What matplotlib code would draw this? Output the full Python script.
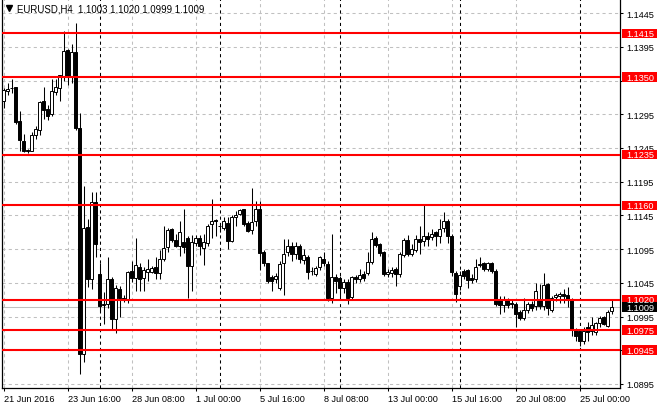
import matplotlib
matplotlib.use('Agg')
import matplotlib.pyplot as plt
from matplotlib.patches import Rectangle
from matplotlib.transforms import blended_transform_factory

# EURUSD H4 bars, 21 Jun 2016 00:00 onwards
opens = [1.1315, 1.1330, 1.1334, 1.1335, 1.1285, 1.1256, 1.1242, 1.1241, 1.1265, 1.1271,
         1.1314, 1.1303, 1.1295, 1.1328, 1.1334, 1.1352, 1.1391, 1.1352, 1.1387, 1.1274,
         1.0940, 1.1128, 1.1050, 1.1165, 1.1058, 1.1012, 1.1013, 1.1051, 1.0991, 1.1036,
         1.1022, 1.1021, 1.1063, 1.1052, 1.1069, 1.1052, 1.1061, 1.1061, 1.1068, 1.1059,
         1.1081, 1.1098, 1.1125, 1.1109, 1.1099, 1.1105, 1.1112, 1.1070, 1.1104, 1.1111,
         1.1097, 1.1104, 1.1132, 1.1138, 1.1130, 1.1127, 1.1134, 1.1107, 1.1142, 1.1147,
         1.1154, 1.1134, 1.1124, 1.1136, 1.1154, 1.1091, 1.1074, 1.1053, 1.1050, 1.1038,
         1.1074, 1.1090, 1.1100, 1.1088, 1.1100, 1.1079, 1.1084, 1.1063, 1.1058, 1.1068,
         1.1081, 1.1073, 1.1022, 1.1053, 1.1052, 1.1037, 1.1046, 1.1024, 1.1054, 1.1050,
         1.1058, 1.1060, 1.1076, 1.1112, 1.1102, 1.1090, 1.1058, 1.1059, 1.1065, 1.1058,
         1.1087, 1.1109, 1.1088, 1.1094, 1.1110, 1.1107, 1.1115, 1.1113, 1.1120, 1.1115,
         1.1126, 1.1137, 1.1115, 1.1060, 1.1040, 1.1063, 1.1064, 1.1052, 1.1050, 1.1071,
         1.1075, 1.1066, 1.1074, 1.1063, 1.1021, 1.1012, 1.1020, 1.1015, 1.1013, 1.1001,
         1.0993, 1.1005, 1.1013, 1.1010, 1.1021, 1.1011, 1.1043, 1.1005, 1.1024, 1.1025,
         1.1028, 1.1027, 1.1020, 1.0976, 1.0974, 1.0958, 1.0980, 1.0974, 1.0972, 1.0985,
         1.0994, 1.0981, 1.1003]
highs = [1.1334, 1.1342, 1.1348, 1.1336, 1.1300, 1.1266, 1.1244, 1.1268, 1.1277, 1.1314,
         1.1336, 1.1309, 1.1347, 1.1348, 1.1354, 1.1419, 1.1392, 1.1399, 1.1430, 1.1297,
         1.1189, 1.1140, 1.1180, 1.1180, 1.1074, 1.1031, 1.1083, 1.1053, 1.1042, 1.1040,
         1.1027, 1.1062, 1.1078, 1.1111, 1.1074, 1.1069, 1.1081, 1.1070, 1.1084, 1.1093,
         1.1130, 1.1126, 1.1127, 1.1117, 1.1136, 1.1154, 1.1115, 1.1116, 1.1116, 1.1116,
         1.1117, 1.1133, 1.1169, 1.1140, 1.1132, 1.1143, 1.1142, 1.1146, 1.1152, 1.1154,
         1.1155, 1.1136, 1.1185, 1.1166, 1.1167, 1.1093, 1.1075, 1.1056, 1.1059, 1.1077,
         1.1110, 1.1110, 1.1106, 1.1106, 1.1103, 1.1095, 1.1087, 1.1068, 1.1070, 1.1085,
         1.1090, 1.1078, 1.1117, 1.1058, 1.1055, 1.1050, 1.1050, 1.1055, 1.1056, 1.1066,
         1.1062, 1.1090, 1.1120, 1.1114, 1.1104, 1.1092, 1.1065, 1.1068, 1.1068, 1.1090,
         1.1112, 1.1116, 1.1102, 1.1116, 1.1129, 1.1162, 1.1120, 1.1125, 1.1122, 1.1140,
         1.1150, 1.1140, 1.1118, 1.1063, 1.1063, 1.1066, 1.1066, 1.1058, 1.1081, 1.1083,
         1.1076, 1.1076, 1.1076, 1.1065, 1.1025, 1.1025, 1.1022, 1.1020, 1.1016, 1.1004,
         1.1022, 1.1016, 1.1018, 1.1045, 1.1043, 1.1060, 1.1045, 1.1025, 1.1030, 1.1031,
         1.1036, 1.1039, 1.1022, 1.0978, 1.0976, 1.0980, 1.0987, 1.0994, 1.0987, 1.0996,
         1.0996, 1.1004, 1.1020]
lows = [1.1305, 1.1323, 1.1327, 1.1281, 1.1241, 1.1239, 1.1238, 1.1240, 1.1259, 1.1265,
        1.1288, 1.1287, 1.1293, 1.1323, 1.1315, 1.1345, 1.1339, 1.1341, 1.1272, 1.0910,
        1.0928, 1.1039, 1.1036, 1.1084, 1.1003, 1.0984, 1.1008, 1.0977, 1.0970, 1.0994,
        1.1017, 1.1015, 1.1046, 1.1033, 1.1033, 1.1033, 1.1048, 1.1059, 1.1050, 1.1051,
        1.1078, 1.1090, 1.1105, 1.1098, 1.1085, 1.1089, 1.1023, 1.1033, 1.1100, 1.1086,
        1.1072, 1.1100, 1.1111, 1.1115, 1.1120, 1.1124, 1.1095, 1.1105, 1.1129, 1.1145,
        1.1130, 1.1120, 1.1117, 1.1130, 1.1064, 1.1070, 1.1045, 1.1033, 1.1045, 1.1035,
        1.1027, 1.1085, 1.1078, 1.1080, 1.1075, 1.1073, 1.1051, 1.1057, 1.1055, 1.1064,
        1.1070, 1.1018, 1.1015, 1.1030, 1.1023, 1.1030, 1.1013, 1.1019, 1.1045, 1.1046,
        1.1048, 1.1057, 1.1073, 1.1098, 1.1085, 1.1055, 1.1053, 1.1053, 1.1041, 1.1053,
        1.1084, 1.1085, 1.1085, 1.1090, 1.1088, 1.1100, 1.1100, 1.1108, 1.1100, 1.1104,
        1.1120, 1.1104, 1.1055, 1.1016, 1.1035, 1.1050, 1.1037, 1.1045, 1.1046, 1.1068,
        1.1063, 1.1062, 1.1060, 1.1010, 1.0999, 1.1002, 1.1008, 1.1008, 1.0979, 1.0990,
        1.0990, 1.1000, 1.1003, 1.1005, 1.1006, 1.1005, 1.0998, 1.1002, 1.1018, 1.1015,
        1.1015, 1.1009, 1.0966, 1.0958, 1.0951, 1.0955, 1.0959, 1.0968, 1.0968, 1.0980,
        1.0982, 1.0980, 1.0999]
closes = [1.1331, 1.1333, 1.1334, 1.1284, 1.1257, 1.1241, 1.1241, 1.1264, 1.1273, 1.1313,
          1.1302, 1.1293, 1.1330, 1.1336, 1.1353, 1.1389, 1.1352, 1.1387, 1.1275, 1.0940,
          1.1126, 1.1050, 1.1165, 1.1102, 1.1011, 1.1013, 1.1051, 1.0991, 1.1037, 1.1023,
          1.1020, 1.1061, 1.1052, 1.1071, 1.1051, 1.1064, 1.1066, 1.1067, 1.1060, 1.1081,
          1.1096, 1.1123, 1.1109, 1.1100, 1.1121, 1.1098, 1.1070, 1.1106, 1.1111, 1.1099,
          1.1106, 1.1130, 1.1136, 1.1137, 1.1129, 1.1136, 1.1107, 1.1142, 1.1146, 1.1153,
          1.1132, 1.1122, 1.1135, 1.1154, 1.1089, 1.1074, 1.1048, 1.1047, 1.1055, 1.1073,
          1.1088, 1.1099, 1.1088, 1.1100, 1.1080, 1.1086, 1.1061, 1.1062, 1.1067, 1.1083,
          1.1074, 1.1022, 1.1053, 1.1048, 1.1037, 1.1046, 1.1023, 1.1053, 1.1051, 1.1056,
          1.1052, 1.1076, 1.1110, 1.1101, 1.1089, 1.1058, 1.1061, 1.1064, 1.1058, 1.1088,
          1.1108, 1.1088, 1.1095, 1.1110, 1.1106, 1.1115, 1.1110, 1.1118, 1.1115, 1.1125,
          1.1137, 1.1115, 1.1061, 1.1029, 1.1057, 1.1055, 1.1049, 1.1049, 1.1069, 1.1073,
          1.1066, 1.1075, 1.1063, 1.1014, 1.1012, 1.1020, 1.1012, 1.1013, 1.0999, 1.0993,
          1.1005, 1.1013, 1.1007, 1.1033, 1.1011, 1.1042, 1.1007, 1.1023, 1.1027, 1.1028,
          1.1025, 1.1020, 1.0975, 1.0966, 1.0959, 1.0974, 1.0972, 1.0983, 1.0985, 1.0993,
          1.0984, 1.1002, 1.1009]

levels = [1.1415, 1.1350, 1.1235, 1.1160, 1.1020, 1.0975, 1.0945]
bid = 1.1009
price_ticks = [1.0895, 1.0945, 1.0995, 1.1045, 1.1095, 1.1145,
               1.1195, 1.1245, 1.1295, 1.1345, 1.1395, 1.1445]
# labels that sit fully under a red level box in the terminal
hidden_ticks = [1.0945, 1.1345]
date_ticks = [0, 16, 32, 48, 64, 80, 96, 112, 128, 144]
date_labels = ['21 Jun 2016', '23 Jun 16:00', '28 Jun 08:00', '1 Jul 00:00', '5 Jul 16:00',
               '8 Jul 08:00', '13 Jul 00:00', '15 Jul 16:00', '20 Jul 08:00', '25 Jul 00:00']
week_starts = [24, 54, 84, 114, 144]
title = 'EURUSD,H4  1.1003 1.1020 1.0999 1.1009'

plt.rcParams['font.family'] = ['Liberation Sans', 'DejaVu Sans']
fs = 6.6

fig = plt.figure(figsize=(6.6, 4.1), dpi=100)
ax = fig.add_axes([2/660, 21/410, 618/660, 389/410])
ax.set_xlim(-0.4, 154.1)
ax.set_ylim(1.0889, 1.1466)

# grid
ax.set_xticks(date_ticks)
ax.set_xticklabels(date_labels)
ax.set_yticks(price_ticks)
ax.set_yticklabels(['' if p in hidden_ticks else '%.4f' % p for p in price_ticks])
ax.grid(color='#c0c0c0', linestyle=(0, (3, 3)), linewidth=0.75)
ax.set_axisbelow(True)

for w in week_starts:
    ax.axvline(w, color='black', linestyle=(0, (3, 3)), linewidth=0.75, zorder=1)

ax.axhline(bid, color='#c0c0c0', linewidth=0.75, zorder=1)

# candles
for i in range(len(opens)):
    o, h, l, c = opens[i], highs[i], lows[i], closes[i]
    ax.vlines(i, l, h, color='black', linewidth=0.75, zorder=3)
    fc = 'white' if c >= o else 'black'
    ax.add_patch(Rectangle((i - 0.3, min(o, c)), 0.6, max(abs(c - o), 0.00004),
                           facecolor=fc, edgecolor='black', linewidth=0.7, zorder=3))

for lv in levels:
    ax.axhline(lv, color='#ff0000', linewidth=1.5, zorder=4)

# price labels on the right axis
trans = blended_transform_factory(ax.transAxes, ax.transData)
x0 = 620 / 618
bw = 35 / 618
bh = 9.5 / 6742
for lv in levels:
    ax.add_patch(Rectangle((x0, lv - bh / 2), bw, bh, transform=trans, facecolor='#ff0000',
                           edgecolor='none', clip_on=False, zorder=6))
    ax.text(x0 + 4 / 618, lv, '%.4f' % lv, transform=trans, color='white', fontsize=fs,
            va='center', ha='left', clip_on=False, zorder=7)
ax.add_patch(Rectangle((x0, bid - bh / 2), bw, bh, transform=trans, facecolor='black',
                       edgecolor='none', clip_on=False, zorder=6))
ax.text(x0 + 4 / 618, bid, '%.4f' % bid, transform=trans, color='white', fontsize=fs,
        va='center', ha='left', clip_on=False, zorder=7)

ax.yaxis.tick_right()
ax.tick_params(axis='y', length=2.5, width=0.75, pad=2, labelsize=fs, direction='out')
ax.tick_params(axis='x', length=2.5, width=0.75, pad=1.5, labelsize=fs, direction='out')
for t in ax.get_xticklabels():
    t.set_ha('left')

ax.spines['top'].set_visible(False)
for s in ['left', 'right', 'bottom']:
    ax.spines[s].set_linewidth(0.9)

# header
ax.plot([7 / 618], [1 - 9 / 389], marker='v', markersize=4, color='black',
        transform=ax.transAxes, clip_on=False)
ax.text(15 / 618, 1 - 9 / 389, title, transform=ax.transAxes, fontsize=6.9,
        va='center', ha='left')

fig.savefig('out.png', dpi=100)
